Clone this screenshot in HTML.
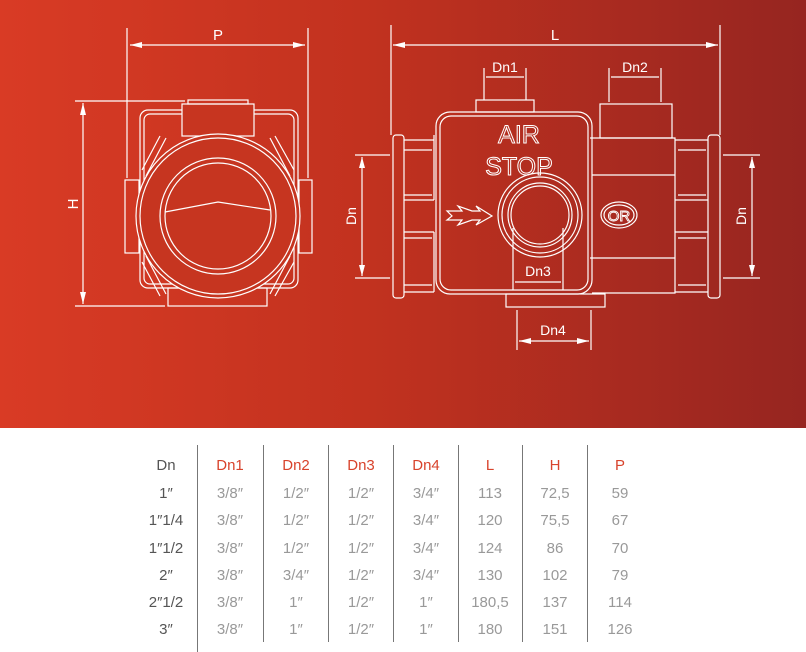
<!DOCTYPE html>
<html><head><meta charset="utf-8"><style>
body{margin:0;width:806px;height:652px;overflow:hidden;background:#fff;font-family:"Liberation Sans",sans-serif}
#top{position:absolute;left:0;top:0;width:806px;height:428px;background:linear-gradient(90deg,#d93b25 0%,#c2321f 45%,#962520 100%)}
svg{position:absolute;left:0;top:0}
.t{position:absolute;font-size:15px;color:#999;text-align:center;width:60px}
.h{color:#d8432c}
.d{color:#555}
.sep{position:absolute;width:1px;background:#777;top:445px;height:197px}
</style></head><body>
<div id="top"></div>
<svg width="806" height="428" fill="none" stroke="#fff" stroke-width="1.2" font-family="Liberation Sans,sans-serif">
<!-- left view dims -->
<line x1="127" y1="28" x2="127" y2="178"/><line x1="308" y1="28" x2="308" y2="178"/>
<line x1="130" y1="45" x2="305" y2="45"/>
<path d="M130,45l12,-3v6z M305,45l-12,-3v6z" fill="#fff" stroke="none"/>
<text x="218" y="40" fill="#fff" stroke="none" font-size="15" text-anchor="middle">P</text>
<line x1="75" y1="101" x2="185" y2="101"/><line x1="75" y1="306" x2="165" y2="306"/>
<line x1="83" y1="103" x2="83" y2="304"/>
<path d="M83,103l-3,12h6z M83,304l-3,-12h6z" fill="#fff" stroke="none"/>
<text x="0" y="0" fill="#fff" stroke="none" font-size="15" text-anchor="middle" transform="translate(78,204) rotate(-90)">H</text>
<!-- left body -->
<rect x="140" y="110" width="158" height="178" rx="8"/>
<rect x="144" y="114" width="150" height="170" rx="6"/>
<rect x="182" y="104" width="72" height="32" fill="#c73520"/>
<rect x="188" y="100" width="60" height="4"/>
<rect x="168" y="288" width="99" height="18"/>
<rect x="125" y="180" width="14" height="73"/><rect x="299" y="180" width="13" height="73"/>
<path d="M160,136L142,170M166,138L146,176M275,136L294,170M270,138L290,176M160,296L142,262M166,294L146,256M275,296L294,262M270,294L290,256"/>
<circle cx="218" cy="216" r="82" fill="#c63520"/><circle cx="218" cy="216" r="78"/>
<circle cx="218" cy="216" r="58"/><circle cx="218" cy="216" r="53"/>
<path d="M165,212L218,202L270,210"/>
<!-- right view dims -->
<line x1="391" y1="25" x2="391" y2="135"/><line x1="720" y1="25" x2="720" y2="135"/>
<line x1="393" y1="45" x2="718" y2="45"/>
<path d="M393,45l12,-3v6z M718,45l-12,-3v6z" fill="#fff" stroke="none"/>
<text x="555" y="40" fill="#fff" stroke="none" font-size="15" text-anchor="middle">L</text>
<line x1="484" y1="68" x2="484" y2="100"/><line x1="526" y1="68" x2="526" y2="100"/><line x1="486" y1="77" x2="524" y2="77"/>
<text x="505" y="72" fill="#fff" stroke="none" font-size="14" text-anchor="middle">Dn1</text>
<line x1="609" y1="68" x2="609" y2="102"/><line x1="661" y1="68" x2="661" y2="102"/><line x1="611" y1="77" x2="659" y2="77"/>
<text x="635" y="72" fill="#fff" stroke="none" font-size="14" text-anchor="middle">Dn2</text>
<line x1="355" y1="155" x2="390" y2="155"/><line x1="355" y1="278" x2="390" y2="278"/><line x1="362" y1="157" x2="362" y2="276"/>
<path d="M362,157l-3,11h6z M362,276l-3,-11h6z" fill="#fff" stroke="none"/>
<text fill="#fff" stroke="none" font-size="14" text-anchor="middle" transform="translate(356,216) rotate(-90)">Dn</text>
<line x1="723" y1="155" x2="760" y2="155"/><line x1="723" y1="278" x2="760" y2="278"/><line x1="752" y1="157" x2="752" y2="276"/>
<path d="M752,157l-3,11h6z M752,276l-3,-11h6z" fill="#fff" stroke="none"/>
<text fill="#fff" stroke="none" font-size="14" text-anchor="middle" transform="translate(746,216) rotate(-90)">Dn</text>
<!-- right body -->
<rect x="393" y="135" width="11" height="163" rx="3"/><rect x="708" y="135" width="12" height="163" rx="3"/>
<path d="M404,140H434M404,200H434M404,232H434M404,292H434M675,140H708M675,200H708M675,232H708M675,292H708"/>
<path d="M404,150H432M404,195H432M404,238H432M404,285H432M678,150H706M678,195H706M678,238H706M678,285H706"/>
<path d="M434,135V200M434,232V292"/>
<rect x="436" y="112" width="156" height="182" rx="14"/>
<rect x="440" y="116" width="148" height="174" rx="11"/>
<rect x="476" y="100" width="58" height="12"/>
<rect x="600" y="104" width="72" height="34"/>
<path d="M590,138H675V175H592M590,258H675V293H592M675,140V292"/>
<text x="519" y="143" fill="none" stroke="#fff" stroke-width="1" font-size="25" text-anchor="middle">AIR</text>
<text x="519" y="175" fill="none" stroke="#fff" stroke-width="1" font-size="25" text-anchor="middle">STOP</text>
<circle cx="540" cy="215" r="42"/><circle cx="540" cy="215" r="38"/><circle cx="540" cy="215" r="32"/><circle cx="540" cy="215" r="29"/>
<path d="M447,211H462L458,206L472,211H480L476,206L492,216L476,225L480,220H472L458,225L462,220H447L452,216Z"/>
<ellipse cx="619" cy="215" rx="18" ry="13"/><ellipse cx="619" cy="215" rx="15" ry="10"/>
<text x="619" y="221" fill="none" stroke="#fff" stroke-width="0.9" font-size="15" text-anchor="middle">OR</text>
<rect x="506" y="294" width="99" height="13"/>
<line x1="513" y1="228" x2="513" y2="290"/><line x1="563" y1="228" x2="563" y2="290"/>
<line x1="515" y1="282" x2="561" y2="282"/>
<text x="538" y="276" fill="#fff" stroke="none" font-size="14" text-anchor="middle">Dn3</text>
<line x1="517" y1="310" x2="517" y2="350"/><line x1="591" y1="310" x2="591" y2="350"/><line x1="519" y1="341" x2="589" y2="341"/>
<path d="M519,341l12,-3v6z M589,341l-12,-3v6z" fill="#fff" stroke="none"/>
<text x="553" y="335" fill="#fff" stroke="none" font-size="14" text-anchor="middle">Dn4</text>
</svg>
<div class="sep" style="left:197px;height:207px"></div>
<div class="sep" style="left:263px"></div><div class="sep" style="left:328px"></div><div class="sep" style="left:393px"></div>
<div class="sep" style="left:458px"></div><div class="sep" style="left:522px"></div><div class="sep" style="left:587px"></div>
<div id="tbl"></div>
<script>
const cx=[166,230,296,361,426,490,555,620];
const rows=[["Dn","Dn1","Dn2","Dn3","Dn4","L","H","P"],
["1\u2033","3/8\u2033","1/2\u2033","1/2\u2033","3/4\u2033","113","72,5","59"],
["1\u20331/4","3/8\u2033","1/2\u2033","1/2\u2033","3/4\u2033","120","75,5","67"],
["1\u20331/2","3/8\u2033","1/2\u2033","1/2\u2033","3/4\u2033","124","86","70"],
["2\u2033","3/8\u2033","3/4\u2033","1/2\u2033","3/4\u2033","130","102","79"],
["2\u20331/2","3/8\u2033","1\u2033","1/2\u2033","1\u2033","180,5","137","114"],
["3\u2033","3/8\u2033","1\u2033","1/2\u2033","1\u2033","180","151","126"]];
const ys=[457,485,512,540,567,594,621];
let h="";
rows.forEach((r,i)=>r.forEach((v,j)=>{let c="t";if(i==0&&j>0)c+=" h";if(j==0)c+=" d";
h+=`<div class="${c}" style="left:${cx[j]-30}px;top:${ys[i]}px">${v}</div>`}));
document.getElementById("tbl").innerHTML=h;
</script>
</body></html>
